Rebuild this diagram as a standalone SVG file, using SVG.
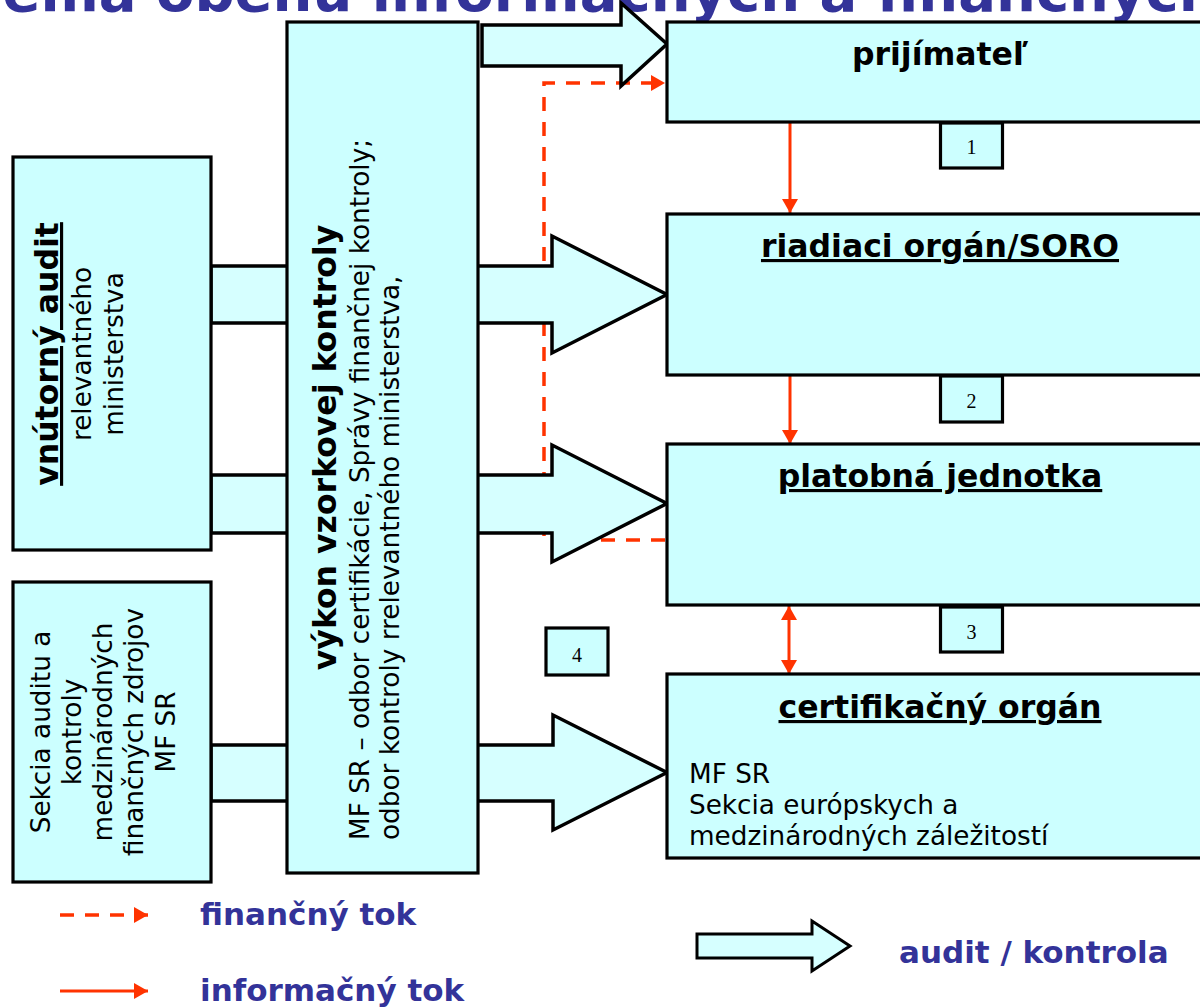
<svg xmlns="http://www.w3.org/2000/svg" width="1200" height="1008" viewBox="0 0 1200 1008">
<defs>
<style>
.box{fill:#CCFFFF;stroke:#000;stroke-width:3.2}
.blk{fill:#D6FFFF;stroke:#000;stroke-width:3.5;stroke-linejoin:miter}
.hdr{font-family:"DejaVu Sans",Verdana,sans-serif;font-weight:bold;font-size:31.5px;fill:#000}
.u{text-decoration:underline}
.reg{font-family:"DejaVu Sans",Verdana,sans-serif;font-size:26.3px;fill:#000}
.num{font-family:"Liberation Serif","Times New Roman",serif;font-size:20px;text-anchor:middle;fill:#000}
.info{fill:none;stroke:#FF3300;stroke-width:3}
.fin{fill:none;stroke:#FF3300;stroke-width:3.5;stroke-dasharray:14 11}
.leg{font-family:"DejaVu Sans",Verdana,sans-serif;font-weight:bold;font-size:31px;fill:#333399}
.ttl{font-family:"DejaVu Sans",Verdana,sans-serif;font-weight:bold;font-size:56px;fill:#333399}
</style>
<marker id="ah" markerUnits="userSpaceOnUse" markerWidth="16" markerHeight="16" viewBox="0 0 14 16" refX="14" refY="8" orient="auto-start-reverse"><path d="M0,0 L14,8 L0,16 z" fill="#FF3300"/></marker>
</defs>
<rect x="0" y="0" width="1200" height="1008" fill="#FFFFFF"/>
<g id="title"><text class="ttl" x="-111" y="11">Schéma obehu informačných a finančných</text></g>

<g id="connectors">
<path class="fin" d="M665,540 H544 V83 H665" marker-end="url(#ah)"/>
<polygon class="blk" points="482,25 621,25 621,3 667,44 621,86 621,66 482,66"/>
<polygon class="blk" points="211,266 552,266 552,236 667,294.5 552,353 552,323 211,323"/>
<polygon class="blk" points="211,475 552,475 552,445 667,503.5 552,562 552,533 211,533"/>
<polygon class="blk" points="211,745 553,745 553,715 667,772.5 553,830 553,801 211,801"/>
<path class="info" d="M790,122 V213" marker-end="url(#ah)"/>
<path class="info" d="M790,376 V444" marker-end="url(#ah)"/>
<path class="info" d="M789,606 V674" marker-start="url(#ah)" marker-end="url(#ah)"/>
</g>

<g id="vykon">
<rect class="box" x="287" y="22" width="191" height="851"/>
<text class="hdr" text-anchor="middle" transform="translate(336,447.5) rotate(-90)">výkon vzorkovej kontroly</text>
<text class="reg" transform="translate(368.5,840) rotate(-90)">MF SR – odbor certifikácie, Správy finančnej kontroly;</text>
<text class="reg" transform="translate(399,840) rotate(-90)">odbor kontroly rrelevantného ministerstva,</text>
</g>

<g id="vnutorny-audit">
<rect class="box" x="13" y="157" width="198" height="393"/>
<text class="hdr u" text-anchor="middle" transform="translate(58,354) rotate(-90)">vnútorný audit</text>
<text class="reg" text-anchor="middle" transform="translate(91,354) rotate(-90)">relevantného</text>
<text class="reg" text-anchor="middle" transform="translate(123,354) rotate(-90)">ministerstva</text>
</g>

<g id="sekcia-auditu">
<rect class="box" x="13" y="582" width="198" height="300"/>
<text class="reg" text-anchor="middle" transform="translate(50,732) rotate(-90)">Sekcia auditu a</text>
<text class="reg" text-anchor="middle" transform="translate(81,732) rotate(-90)">kontroly</text>
<text class="reg" text-anchor="middle" transform="translate(112,732) rotate(-90)">medzinárodných</text>
<text class="reg" text-anchor="middle" transform="translate(143,732) rotate(-90)">finančných zdrojov</text>
<text class="reg" text-anchor="middle" transform="translate(175,732) rotate(-90)">MF SR</text>
</g>

<g id="prijimatel">
<rect class="box" x="667" y="22" width="546" height="100"/>
<text class="hdr" x="940" y="65" text-anchor="middle">prijímateľ</text>
</g>

<g id="riadiaci-organ">
<rect class="box" x="667" y="214" width="546" height="161"/>
<text class="hdr u" x="940" y="257" text-anchor="middle">riadiaci orgán/SORO</text>
</g>

<g id="platobna-jednotka">
<rect class="box" x="667" y="444" width="546" height="161"/>
<text class="hdr u" x="940" y="487" text-anchor="middle">platobná jednotka</text>
</g>

<g id="certifikacny-organ">
<rect class="box" x="667" y="674" width="546" height="184"/>
<text class="hdr u" x="940" y="718" text-anchor="middle">certifikačný orgán</text>
<text class="reg" x="689" y="783">MF SR</text>
<text class="reg" x="689" y="814">Sekcia európskych a</text>
<text class="reg" x="689" y="845">medzinárodných záležitostí</text>
</g>

<g id="num-1"><rect class="box" x="940.5" y="123" width="62" height="45"/><text class="num" x="971.5" y="154">1</text></g>
<g id="num-2"><rect class="box" x="940.5" y="376" width="62" height="46"/><text class="num" x="971.5" y="408">2</text></g>
<g id="num-3"><rect class="box" x="940.5" y="607" width="62" height="45"/><text class="num" x="971.5" y="639">3</text></g>
<g id="num-4"><rect class="box" x="546" y="628" width="62" height="47"/><text class="num" x="577" y="662">4</text></g>

<g id="legend">
<path class="fin" d="M60,915 H148" stroke-dasharray="14 10" marker-end="url(#ah)"/>
<text class="leg" x="200" y="925">finančný tok</text>
<path class="info" d="M60,991 H148" marker-end="url(#ah)"/>
<text class="leg" x="200" y="1001">informačný tok</text>
<polygon class="blk" points="697,934 812,934 812,921 850,946 812,971 812,958 697,958" style="stroke-width:3"/>
<text class="leg" x="899" y="963">audit / kontrola</text>
</g>
</svg>
